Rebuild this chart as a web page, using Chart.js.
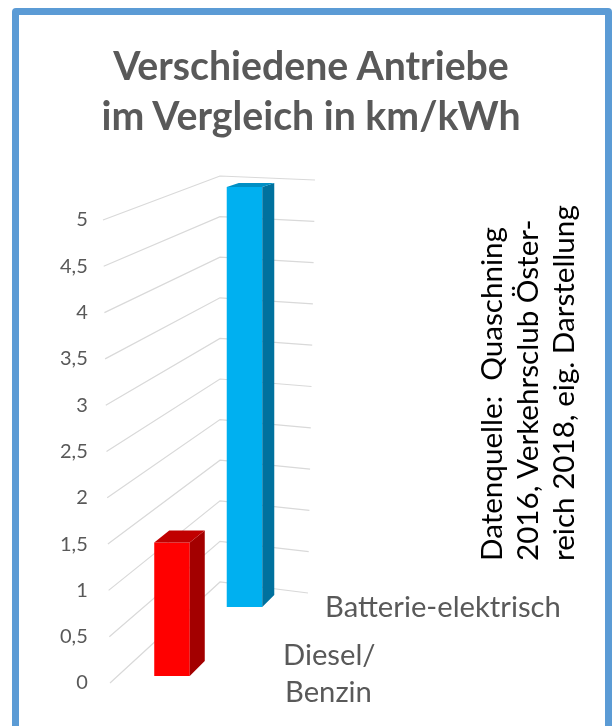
<!DOCTYPE html>
<html>
<head>
<meta charset="utf-8">
<script src="https://cdn.jsdelivr.net/npm/chart.js@4"></script>
<style>
html,body{margin:0;padding:0;background:#fff;width:615px;height:726px;overflow:hidden;}
#frame{position:absolute;left:12px;top:8px;width:600px;height:780px;box-sizing:border-box;border:7px solid #5B9BD5;border-radius:4px;}
#c{position:absolute;left:0;top:0;}
#title{position:absolute;left:0;width:622px;text-align:center;font-family:Lato,sans-serif;font-weight:bold;color:#595959;white-space:pre;}
#note{position:absolute;transform-origin:0 0;transform:rotate(-90deg);white-space:pre;font-family:Lato,sans-serif;color:#000;}
</style>
</head>
<body>
<div id="frame"></div>
<canvas id="c" width="615" height="726"></canvas>
<div id="title"></div>
<div id="note"></div>
<script>
// ---- data ----
const titleLines = ['Verschiedene Antriebe', 'im Vergleich in km/kWh'];
const noteLines = ['Datenquelle:  Quaschning', '2016, Verkehrsclub Öster-', 'reich 2018, eig. Darstellung'];
const categories = [['Diesel/', 'Benzin'], 'Batterie-elektrisch'];
const values = [1.45, 5.0];
const yTickValues = [0, 0.5, 1, 1.5, 2, 2.5, 3, 3.5, 4, 4.5, 5];
const yTickLabels = ['0', '0,5', '1', '1,5', '2', '2,5', '3', '3,5', '4', '4,5', '5'];

// ---- styles ----
const frontColors = ['#FF0000', '#00B0F0'];
const sideColors = ['#A30000', '#00719E'];
const topColors = ['#C00000', '#008FC4'];
const axisIds = ['yFront', 'yBack'];
const depth = [{t: [15, -12], b: [15, -15]}, {t: [12, -4], b: [12, -12]}];
const textColor = '#595959';
const AREA = {left: 135.75, right: 280.75, top: 220, bottom: 683};

const mctx = document.createElement('canvas').getContext('2d');
function fitSize(text, weight, family, target) {
  mctx.font = weight + ' 100px ' + family;
  return 100 * target / mctx.measureText(text).width;
}

// title
const tfs = fitSize(titleLines[0], 'bold', 'Lato', 397);
const tlh = 50;
const tEl = document.getElementById('title');
tEl.textContent = titleLines.join('\n');
tEl.style.fontSize = tfs + 'px';
tEl.style.lineHeight = tlh + 'px';
tEl.style.top = (80 - ((tlh - 1.2 * tfs) / 2 + 0.987 * tfs)) + 'px';

// note (rotated)
const nfs = fitSize(noteLines[2], 'normal', 'Lato', 356);
const nlh = 36;
const nEl = document.getElementById('note');
nEl.textContent = noteLines.join('\n');
nEl.style.fontSize = nfs + 'px';
nEl.style.lineHeight = nlh + 'px';
nEl.style.top = '561px';
nEl.style.left = (502 - ((nlh - 1.2 * nfs) / 2 + 0.987 * nfs)) + 'px';

// ---- plugins ----
const wallPlugin = {
  id: 'wall',
  beforeDatasetsDraw(chart) {
    const {ctx, scales} = chart;
    ctx.save();
    ctx.strokeStyle = '#D9D9D9';
    ctx.lineWidth = 1.2;
    scales.y.ticks.forEach(t => {
      const v = t.value;
      ctx.beginPath();
      ctx.moveTo(110 - 1.4 * v, scales.y.getPixelForValue(v));
      ctx.lineTo(220, scales.wallC.getPixelForValue(v));
      ctx.lineTo(308 + 1.4 * v, scales.wallR.getPixelForValue(v));
      ctx.stroke();
    });
    ctx.restore();
  }
};

const bar3dPlugin = {
  id: 'bar3d',
  afterDatasetsDraw(chart) {
    const ctx = chart.ctx;
    ctx.save();
    chart.data.datasets.forEach((ds, di) => {
      const meta = chart.getDatasetMeta(di);
      meta.data.forEach((el, i) => {
        if (ds.data[i] === null) return;
        const p = el.getProps(['x', 'y', 'base', 'width'], true);
        const l = p.x - p.width / 2, r = p.x + p.width / 2, t = p.y, b = p.base;
        const d = depth[di];
        ctx.fillStyle = sideColors[di];
        ctx.beginPath();
        ctx.moveTo(r, t); ctx.lineTo(r + d.t[0], t + d.t[1]);
        ctx.lineTo(r + d.b[0], b + d.b[1]); ctx.lineTo(r, b);
        ctx.closePath(); ctx.fill();
        ctx.fillStyle = topColors[di];
        ctx.beginPath();
        ctx.moveTo(l, t); ctx.lineTo(r, t);
        ctx.lineTo(r + d.t[0], t + d.t[1]); ctx.lineTo(l + d.t[0], t + d.t[1]);
        ctx.closePath(); ctx.fill();
      });
    });
    ctx.restore();
  }
};

const catLabelPlugin = {
  id: 'catLabels',
  afterDraw(chart) {
    const ctx = chart.ctx;
    const labs = chart.data.labels;
    const fs = fitSize(labs[1], 'normal', 'Lato', 236);
    ctx.save();
    ctx.fillStyle = textColor;
    ctx.font = fs + 'px Lato';
    ctx.textBaseline = 'middle';
    ctx.textAlign = 'left';
    ctx.fillText(labs[1], 325, 608);
    const l0 = labs[0];
    ctx.fillText(l0[0], 283, 656);
    ctx.fillText(l0[1], 285, 693);
    ctx.restore();
  }
};

// ---- chart ----
const datasets = values.map((v, i) => ({
  label: Array.isArray(categories[i]) ? categories[i].join(' ') : categories[i],
  data: values.map((w, j) => (j === i ? w : null)),
  yAxisID: axisIds[i],
  backgroundColor: frontColors[i],
  borderWidth: 0,
  grouped: false,
  barPercentage: 1,
  categoryPercentage: 0.49,
  clip: false
}));

let yAxisWidth = AREA.left;
const chart = new Chart(document.getElementById('c'), {
  type: 'bar',
  data: {labels: categories, datasets},
  plugins: [wallPlugin, bar3dPlugin, catLabelPlugin],
  options: {
    responsive: false,
    animation: false,
    devicePixelRatio: 1,
    layout: {padding: {left: 0, top: AREA.top, right: 615 - AREA.right, bottom: 726 - AREA.bottom}},
    plugins: {legend: {display: false}, tooltip: {enabled: false}, title: {display: false}},
    scales: {
      x: {type: 'category', display: false, offset: true},
      y: {
        type: 'linear', position: 'left', min: 0, max: 5,
        grid: {display: false, drawTicks: false},
        border: {display: false},
        afterBuildTicks: s => { s.ticks = yTickValues.map(v => ({value: v})); },
        afterFit: s => { s.width = yAxisWidth; s.paddingTop = 0; s.paddingBottom = 0; },
        ticks: {
          padding: 48,
          color: textColor,
          font: {family: 'Lato', size: 20},
          callback: (v, i) => yTickLabels[i]
        }
      },
      yFront: {type: 'linear', axis: 'y', position: 'left', display: false, min: -0.0761, max: 4.9565},
      yBack: {type: 'linear', axis: 'y', position: 'left', display: false, min: -0.9048, max: 4.6071},
      wallC: {type: 'linear', axis: 'y', position: 'left', display: false, min: -1.2438, max: 4.4582},
      wallR: {type: 'linear', axis: 'y', position: 'left', display: false, min: -1.0896, max: 4.5157}
    }
  }
});

// correct layout so the plot area lands exactly where intended
for (let k = 0; k < 3; k++) {
  const ca = chart.chartArea;
  if (Math.abs(ca.top - AREA.top) < 0.2 && Math.abs(ca.bottom - AREA.bottom) < 0.2 &&
      Math.abs(ca.left - AREA.left) < 0.2 && Math.abs(ca.right - AREA.right) < 0.2) break;
  const pad = Object.assign({}, chart.config.options.layout.padding);
  pad.top += AREA.top - ca.top;
  pad.bottom += ca.bottom - AREA.bottom;
  pad.right += ca.right - AREA.right;
  yAxisWidth += AREA.left - ca.left;
  chart.config.options.layout.padding = pad;
  chart.update();
}
</script>
</body>
</html>
